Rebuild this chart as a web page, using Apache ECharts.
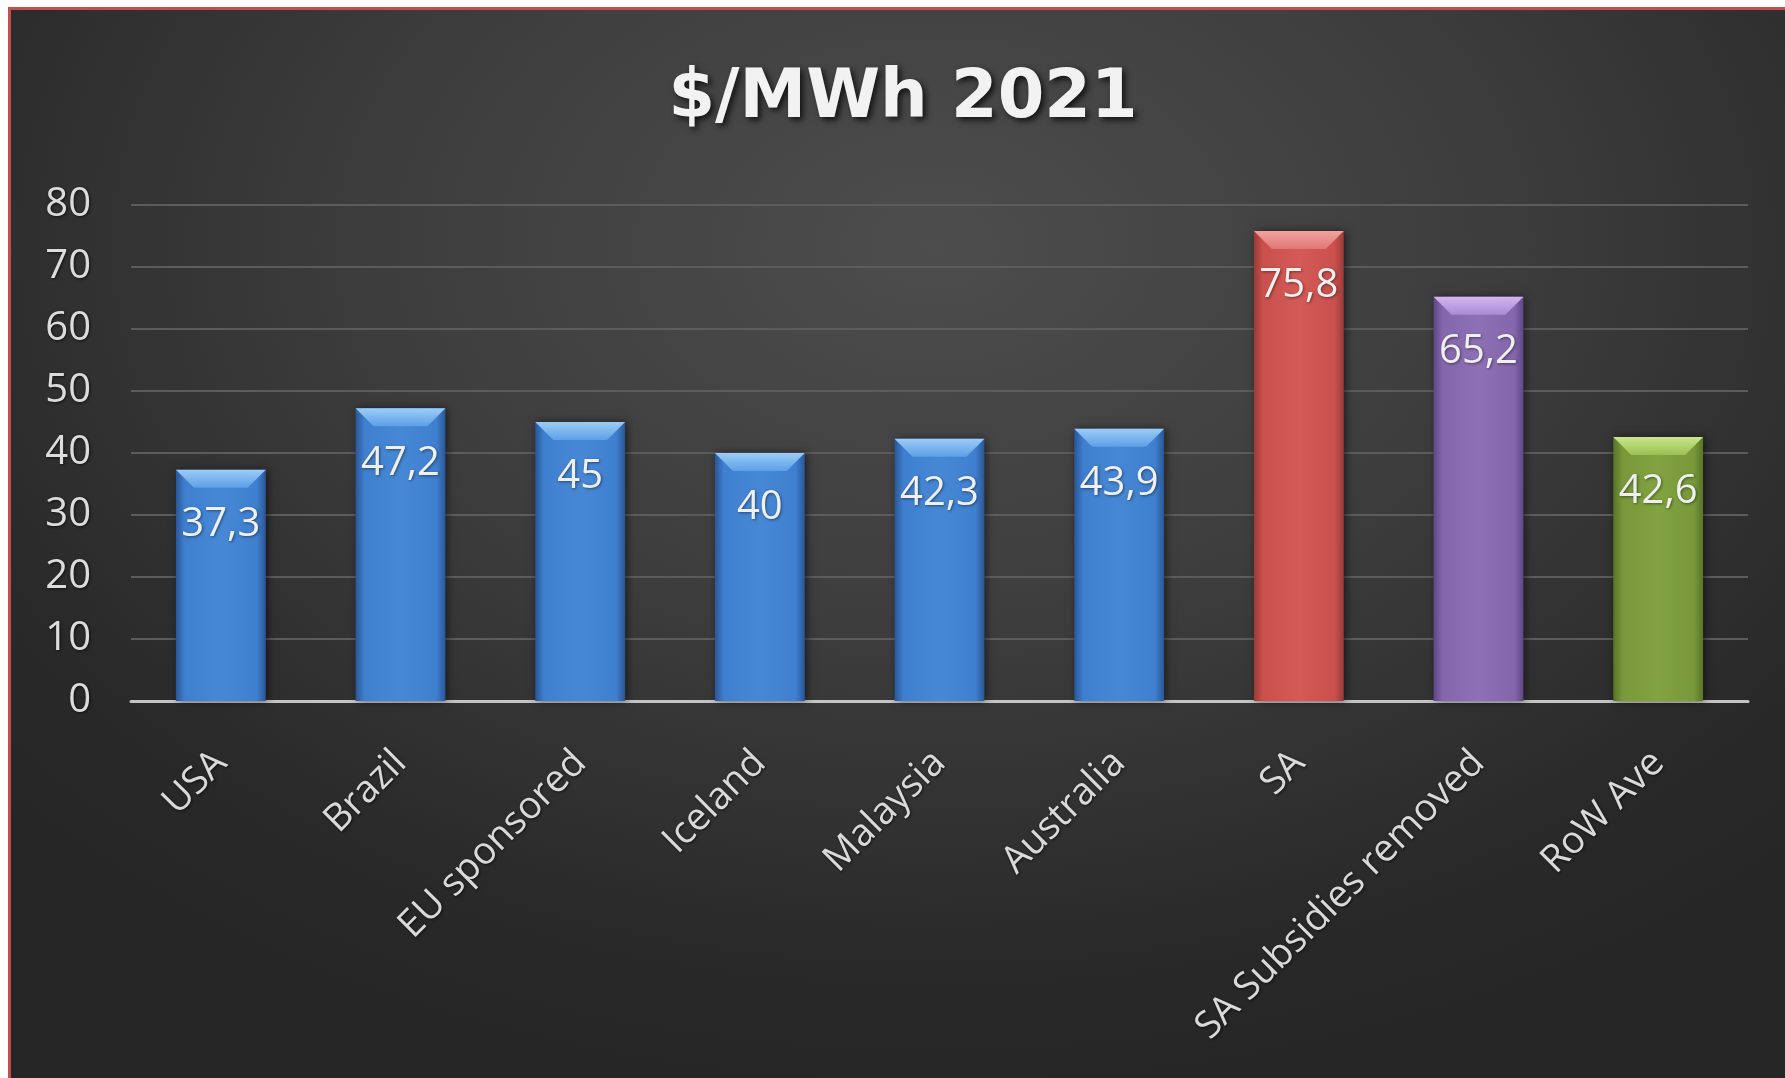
<!DOCTYPE html>
<html><head><meta charset="utf-8">
<script src="https://cdn.jsdelivr.net/npm/echarts@6/dist/echarts.min.js"></script>
<style>
html,body{margin:0;padding:0;background:#ffffff;width:1785px;height:1078px;overflow:hidden}
#frame{position:absolute;left:8px;top:7px;width:1777px;height:1071px;box-sizing:border-box;border-left:3px solid #c0504d;border-top:3px solid #c0504d;
background:radial-gradient(ellipse 70% 80% at 52% 22%, #4d4d4d 0%, #3d3d3d 45%, #292929 85%, #262626 100%);}
#chart{position:absolute;left:0;top:0;width:1785px;height:1078px}
</style></head><body><div id="frame"></div><div id="chart"></div>
<script>
const chartTitle = '$/MWh 2021';
const categories = ['USA','Brazil','EU sponsored','Iceland','Malaysia','Australia','SA','SA Subsidies removed','RoW Ave'];
const values = [37.3, 47.2, 45, 40, 42.3, 43.9, 75.8, 65.2, 42.6];
const yTicks = [0, 10, 20, 30, 40, 50, 60, 70, 80];
const barColorKeys = ['blue','blue','blue','blue','blue','blue','red','purple','green'];

const palette = {
  blue:   {edge:'#2a5796', mid:'#3f7fcf', hi:'#4688d6', bevelTop:'#9ccdf7', bevelBot:'#5d9fe6'},
  red:    {edge:'#9a3a38', mid:'#c9504d', hi:'#d35a57', bevelTop:'#f2a3a1', bevelBot:'#df7774'},
  purple: {edge:'#5f4785', mid:'#8466ad', hi:'#8d70b6', bevelTop:'#d2b6f0', bevelBot:'#a98bd2'},
  green:  {edge:'#587428', mid:'#78983a', hi:'#82a340', bevelTop:'#c8e88a', bevelBot:'#9cc055'}
};
function bodyGrad(p){
  return new echarts.graphic.LinearGradient(0,0,1,0,[
    {offset:0,color:p.edge},{offset:0.1,color:p.mid},{offset:0.5,color:p.hi},{offset:0.9,color:p.mid},{offset:1,color:p.edge}]);
}
function bevelGrad(p){
  return new echarts.graphic.LinearGradient(0,0,0,1,[{offset:0,color:p.bevelTop},{offset:1,color:p.bevelBot}]);
}

const chart = echarts.init(document.getElementById('chart'), null, {renderer:'canvas'});
const FONT = '"Open Sans", "DejaVu Sans", sans-serif';

chart.setOption({
  backgroundColor: 'transparent',
  animation: false,
  graphic: [{
    type:'text', x: 903, y: 100, z: 10,
    style:{text: chartTitle, fill:'#f2f2f2', font:'bold 67px "DejaVu Sans", sans-serif', textAlign:'center', textVerticalAlign:'middle',
      textShadowColor:'rgba(0,0,0,0.75)', textShadowBlur:6, textShadowOffsetX:3, textShadowOffsetY:3}
  }],
  grid: {left:131, right:37, top:205, bottom:377, outerBoundsMode:'none', containLabel:false},
  xAxis: {
    type:'category', data: categories,
    axisLine:{show:true, lineStyle:{color:'#c4c4c4', width:3}},
    axisTick:{show:false},
    axisLabel:{rotate:45, fontSize:38, color:'#d9d9d9', fontFamily:FONT, margin:56, interval:0,
      textShadowColor:'rgba(0,0,0,0.6)', textShadowBlur:3, textShadowOffsetX:1, textShadowOffsetY:1}
  },
  yAxis: {
    type:'value', min: yTicks[0], max: yTicks[yTicks.length-1], interval: yTicks[1]-yTicks[0],
    axisLine:{show:false}, axisTick:{show:false},
    axisLabel:{fontSize:40, color:'#dcdcdc', fontFamily:FONT, margin:40,
      textShadowColor:'rgba(0,0,0,0.6)', textShadowBlur:3, textShadowOffsetX:1, textShadowOffsetY:1},
    splitLine:{show:true, lineStyle:{color:'#5c5c5c', width:2}}
  },
  series: [{
    type:'bar', barWidth:'50%', z:2,
    data: values.map((v,i)=>({value:v, itemStyle:{color: bodyGrad(palette[barColorKeys[i]]),
      shadowColor:'rgba(0,0,0,0.55)', shadowBlur:8, shadowOffsetX:2, shadowOffsetY:0}})),
    label:{show:true, position:'insideTop', distance:35, fontSize:40, color:'#f0f0f0', fontFamily:FONT,
      formatter: p => String(p.value).replace('.', ','),
      textShadowColor:'rgba(0,0,0,0.45)', textShadowBlur:3, textShadowOffsetX:1, textShadowOffsetY:1}
  },{
    type:'custom', z:3, silent:true,
    data: values.map((v,i)=>[i, v]),
    encode:{x:0, y:1},
    renderItem: function(params, api){
      const i = api.value(0), v = api.value(1);
      const top = api.coord([i, v]);
      const w = api.size([1,0])[0]*0.5;
      const x0 = top[0]-w/2, x1 = top[0]+w/2, y = top[1], b = 18;
      const p = palette[barColorKeys[params.dataIndex]];
      return {type:'polygon', shape:{points:[[x0,y],[x1,y],[x1-b,y+b],[x0+b,y+b]]},
        style:{fill: bevelGrad(p)}};
    }
  }]
});
</script></body></html>
